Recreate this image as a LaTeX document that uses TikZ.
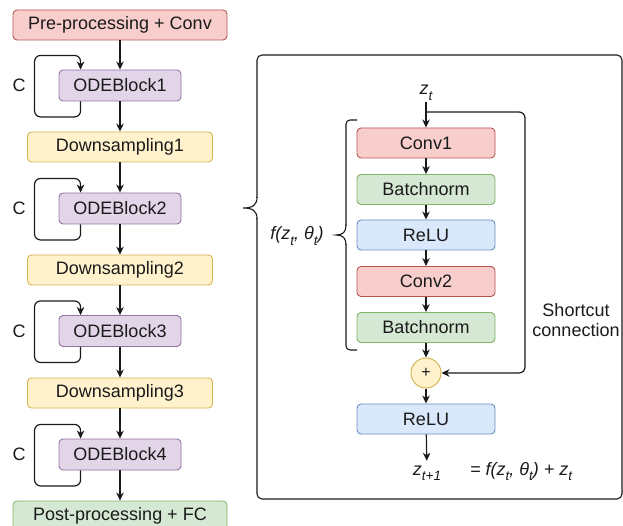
\documentclass[tikz,border=0pt]{standalone}
\usepackage{fontspec}
\setmainfont{Liberation Sans}
\usetikzlibrary{arrows.meta}
\definecolor{rfill}{HTML}{F8CECC}\definecolor{rdraw}{HTML}{B85450}
\definecolor{gfill}{HTML}{D5E8D4}\definecolor{gdraw}{HTML}{82B366}
\definecolor{bfill}{HTML}{DAE8FC}\definecolor{bdraw}{HTML}{6C8EBF}
\definecolor{yfill}{HTML}{FFF2CC}\definecolor{ydraw}{HTML}{D6B656}
\definecolor{pfill}{HTML}{E1D5E7}\definecolor{pdraw}{HTML}{9673A6}
\definecolor{ink}{HTML}{1A1A1A}
\newcommand{\mysub}[1]{\raisebox{-0.32em}{\fontsize{13.5}{13.5}\selectfont #1}}
\begin{document}
\begin{tikzpicture}[x=1pt,y=-1pt,
  every node/.style={font=\fontsize{18}{21}\selectfont, text=ink},
  box/.style={draw, rounded corners=4pt, line width=0.9pt, inner sep=0pt, minimum height=30pt},
  redbox/.style={box, fill=rfill, draw=rdraw},
  greenbox/.style={box, fill=gfill, draw=gdraw},
  bluebox/.style={box, fill=bfill, draw=bdraw},
  yellowbox/.style={box, fill=yfill, draw=ydraw},
  purplebox/.style={box, fill=pfill, draw=pdraw, minimum width=122pt, minimum height=31pt},
  wide/.style={minimum width=214pt},
  mid/.style={minimum width=185pt},
  inner/.style={minimum width=138pt},
  conn/.style={draw=ink, line width=1.2pt, -{Stealth[length=8pt,width=7.5pt,inset=2.5pt]}},
  line/.style={draw=ink, line width=1.2pt},
  lbl/.style={inner sep=1pt}
]
\useasboundingbox (0,0) rectangle (623,526);

% left column
\node[redbox, wide] (pre) at (120,25) {Pre-processing + Conv};
\node[purplebox] (o1) at (120,85.5) {ODEBlock1};
\node[yellowbox, mid] (d1) at (120,147) {Downsampling1};
\node[purplebox] (o2) at (120,208.5) {ODEBlock2};
\node[yellowbox, mid] (d2) at (120,270) {Downsampling2};
\node[purplebox] (o3) at (120,331) {ODEBlock3};
\node[yellowbox, mid] (d3) at (120,393) {Downsampling3};
\node[purplebox] (o4) at (120,454.5) {ODEBlock4};
\node[greenbox, wide] (post) at (120,516) {Post-processing + FC};

\draw[conn] (pre) -- (o1);
\draw[conn] (o1) -- (d1);
\draw[conn] (d1) -- (o2);
\draw[conn] (o2) -- (d2);
\draw[conn] (d2) -- (o3);
\draw[conn] (o3) -- (d3);
\draw[conn] (d3) -- (o4);
\draw[conn] (o4) -- (post);

\foreach \o in {o1,o2,o3,o4}{
  \coordinate (\o b) at ([xshift=22pt]\o.south west);
  \coordinate (\o t) at ([xshift=22pt]\o.north west);
  \draw[conn, rounded corners=6pt] (\o b) -- ++(0,15.5) -- ++(-46,0) -- ++(0,-61.5) -- ++(46,0) -- (\o t);
  \node[lbl] (\o c) at ([xshift=-101pt]\o.center) {C};
}

% right panel: outer box with brace
\draw[line, line width=1.1pt, rounded corners=5pt] (257,218) -- (257,499) -- (622,499) -- (622,55) -- (257,55) -- (257,198);
\draw[line, line width=1.1pt] (257,197) .. controls (257,205) and (253,208) .. (243,208)
  .. controls (253,208) and (257,211) .. (257,219);

% inner blocks
\node[redbox, inner] (c1) at (426,143) {Conv1};
\node[greenbox, inner] (b1) at (426,189.5) {Batchnorm};
\node[bluebox, inner] (r1) at (426,235) {ReLU};
\node[redbox, inner] (c2) at (426,281.5) {Conv2};
\node[greenbox, inner] (b2) at (426,327.5) {Batchnorm};
\node[circle, draw=ydraw, fill=yfill, line width=1pt, minimum size=30pt, inner sep=0pt, font=\fontsize{16}{16}\selectfont] (plus) at (426,373) {+};
\node[bluebox, inner] (r2) at (426,419) {ReLU};

\node[lbl, anchor=base] (zt) at (426,95) {\itshape z\mysub{t}};
\node[lbl, anchor=base, text height=13pt] (zt1) at (427,475) {\itshape z\mysub{t+1}};
\node[lbl, anchor=base west] (eq) at (469,475) {\itshape = f(z\mysub{t}, θ\mysub{t}) + z\mysub{t}};
\node[lbl] (f) at (297,236) {\itshape f(z\mysub{t}, θ\mysub{t})};
\node[lbl, align=center, font=\fontsize{18}{20}\selectfont] (sc) at (576,320) {Shortcut\\connection};

\coordinate (br) at (426,112);
\draw[conn] (zt) -- (c1);
\draw[conn] (c1) -- (b1);
\draw[conn] (b1) -- (r1);
\draw[conn] (r1) -- (c2);
\draw[conn] (c2) -- (b2);
\draw[conn] (b2) -- (plus);
\draw[conn] (plus) -- (r2);
\draw[conn] (r2) -- (zt1);
\draw[conn, rounded corners=6pt] (br) -- (525,112) -- (525,373) -- (plus);

% inner brace
\draw[line, line width=1.1pt, rounded corners=4pt] (357,120) -- (346,120) -- (346,226);
\draw[line, line width=1.1pt] (346,225) .. controls (346,232) and (343,235) .. (336,235)
  .. controls (343,235) and (346,238) .. (346,245);
\draw[line, line width=1.1pt, rounded corners=4pt] (346,244) -- (346,350) -- (357,350);
\end{tikzpicture}
\end{document}
